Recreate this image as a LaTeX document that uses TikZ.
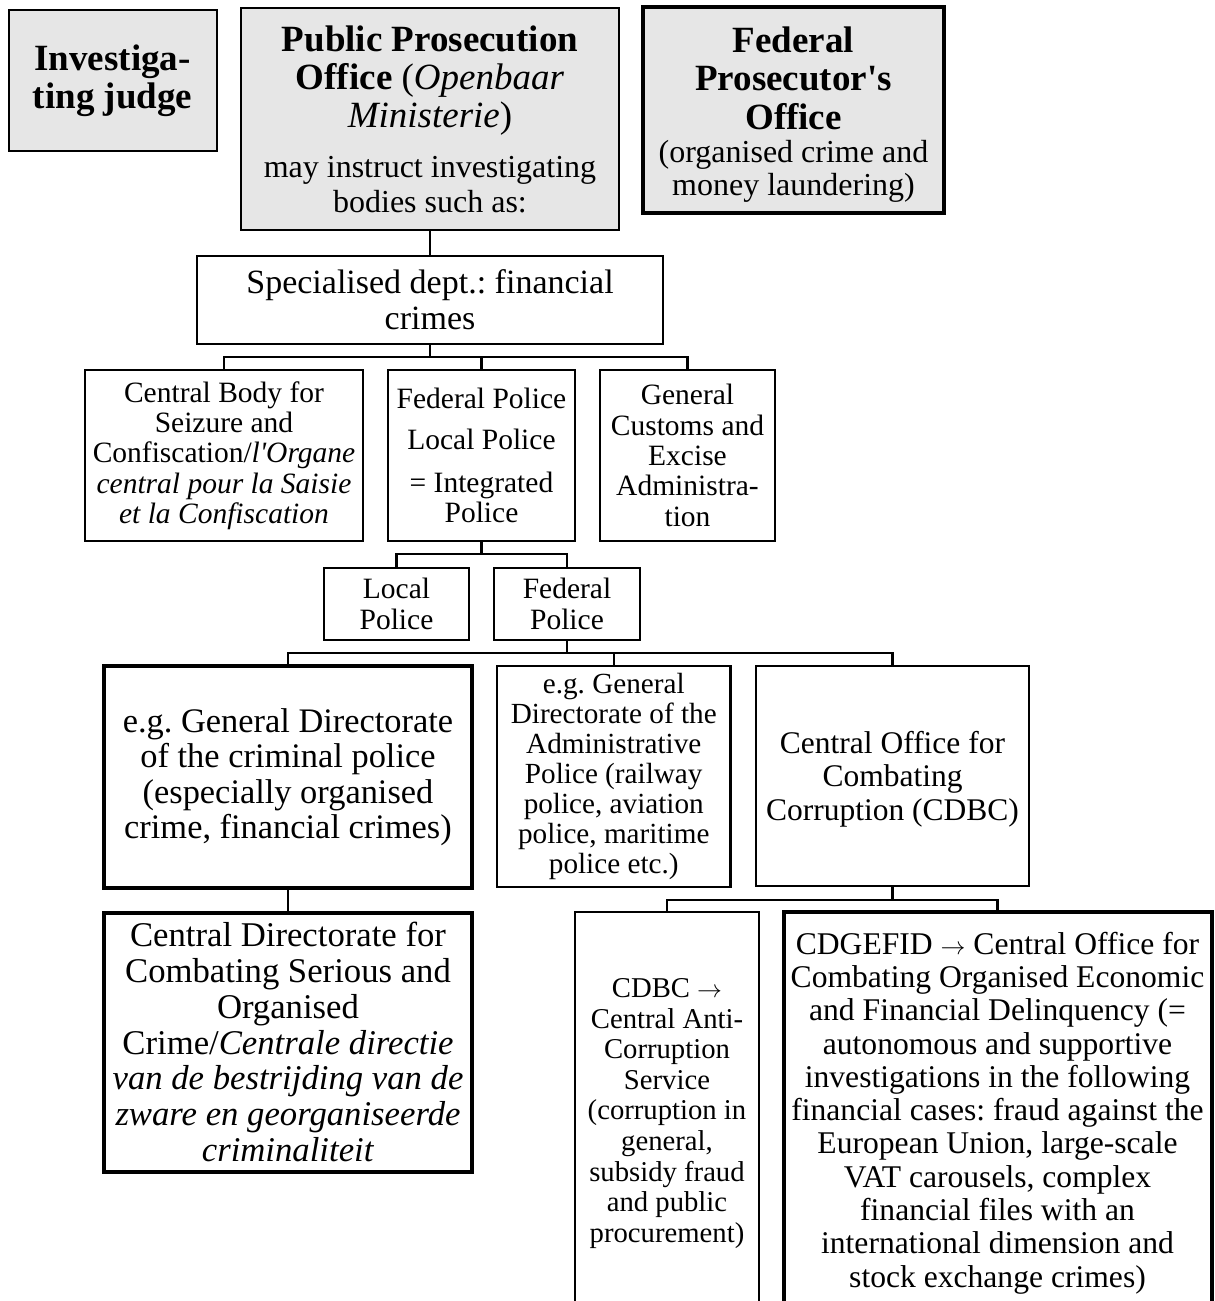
\documentclass[tikz,border=0pt]{standalone}
\usepackage{fontspec}
\setmainfont{Liberation Serif}[Ligatures=TeXOff]
\definecolor{boxgray}{HTML}{E6E6E6}
\newcommand\setfs[2]{\fontsize{#1}{#2}\selectfont\spaceskip=.25em\relax\xspaceskip=.25em\relax}
\newcommand\rarr{\ensuremath{\rightarrow}}
\newcommand\tallstrut[1]{\rule{0pt}{#1}}
\begin{document}
\begin{tikzpicture}[x=1pt,y=-1pt,
  box/.style={draw, line width=2.2pt, align=center, inner sep=0pt, outer sep=0pt},
  thickbox/.style={box, line width=4pt},
  grey/.style={fill=boxgray},
  conn/.style={line width=2.2pt}]
\useasboundingbox (0,0) rectangle (1215,1301);

\node[box,grey,minimum width=208pt,minimum height=141pt,text width=206pt] (judge) at (112.6,80.3)
  {\setfs{37}{38}\bfseries Investiga-\\ ting judge\par};
\node[box,grey,minimum width=378pt,minimum height=222pt,text width=374pt] (ppo) at (430,119)
  {\setfs{37}{38}\bfseries Public Prosecution\\ Office \mdseries(\textit{Openbaar}\\ \textit{Ministerie})\\[15pt]
   \setfs{32}{35}may instruct investigating\\ bodies such as:\par};
\node[thickbox,grey,minimum width=301pt,minimum height=206pt,text width=297pt] (fpo) at (793.5,110)
  {\setfs{37}{38.5}\bfseries\tallstrut{34pt}Federal\\ Prosecutor's\\ Office\\ \mdseries\setfs{32}{33}(organised crime and\\ money laundering)\par};

\node[box,minimum width=466pt,minimum height=88pt,text width=462pt] (spec) at (430,300)
  {\setfs{34}{36}Specialised dept.: financial\\ crimes\par};

\node[box,minimum width=278pt,minimum height=171pt,text width=276pt] (cbody) at (224,455.5)
  {\setfs{29.5}{30.3}Central Body for\\ Seizure and\\ Confiscation/\textit{l'Organe}\\ \textit{central pour la Saisie}\\ \textit{et la Confiscation}\par};
\node[box,minimum width=187pt,minimum height=171pt,text width=185pt] (integ) at (481.5,455.5)
  {\setfs{29.5}{30.3}Federal Police\\[11pt] Local Police\\[12pt] = Integrated\\ Police\par};
\node[box,minimum width=175pt,minimum height=171pt,text width=173pt] (customs) at (687.5,455.5)
  {\setfs{29.5}{30.3}General\\ Customs and\\ Excise\\ Administra-\\ tion\par};

\node[box,minimum width=145pt,minimum height=72pt,text width=143pt] (local) at (396.5,604)
  {\setfs{29.5}{30.3}Local\\ Police\par};
\node[box,minimum width=146pt,minimum height=72pt,text width=144pt] (fedpol) at (567,604)
  {\setfs{29.5}{30.3}Federal\\ Police\par};

\node[thickbox,minimum width=368pt,minimum height=222pt,text width=366pt] (crim) at (288,777)
  {\setfs{34.4}{35.5}e.g. General Directorate\\ of the criminal police\\ (especially organised\\ crime, financial crimes)\par};
\node[box,minimum width=233.5pt,minimum height=221pt,text width=231pt] (admin) at (613.75,776.5)
  {\setfs{29.2}{30}e.g. General\\ Directorate of the\\ Administrative\\ Police (railway\\ police, aviation\\ police, maritime\\ police etc.)\par};
\node[box,minimum width=273pt,minimum height=220pt,text width=271pt] (cobc) at (892.5,776)
  {\setfs{31.5}{33.5}\tallstrut{28pt}Central Office for\\ Combating\\ Corruption (CDBC)\par};

\node[thickbox,minimum width=368pt,minimum height=259pt,text width=366pt] (cdir) at (288,1042)
  {\setfs{34.7}{35.7}Central Directorate for\\ Combating Serious and\\ Organised\\ Crime/\textit{Centrale directie}\\ \textit{van de bestrijding van de}\\ \textit{zware en georganiseerde}\\ \textit{criminaliteit}\par};

\node[box,minimum width=184pt,minimum height=396pt,text width=182pt] (cdbc2) at (667,1110)
  {\setfs{28.7}{30.6}\tallstrut{26pt}CDBC \rarr\\ Central Anti-\\ Corruption\\ Service\\ (corruption in\\ general,\\ subsidy fraud\\ and public\\ procurement)\par};
\node[thickbox,minimum width=428pt,minimum height=396pt,text width=426pt] (cdgefid) at (997.5,1110)
  {\setfs{31.6}{33.3}\tallstrut{28pt}CDGEFID \rarr{} Central Office for\\ Combating Organised Economic\\ and Financial Delinquency (=\\ autonomous and supportive\\ investigations in the following\\ financial cases: fraud against the\\ European Union, large-scale\\ VAT carousels, complex\\ financial files with an\\ international dimension and\\ stock exchange crimes)\par};

\coordinate (b1) at (430,357);
\coordinate (b2) at (481.5,554);
\coordinate (b3) at (567,653);
\coordinate (b4) at (892.5,900);

\draw[conn] (ppo.south) -- (spec.north);
\draw[conn] (spec.south) -- (b1);
\draw[conn] (cbody.north) |- (b1) -| (customs.north);
\draw[conn] (integ.north) -- (integ.north |- b1);
\draw[conn] (integ.south) -- (b2);
\draw[conn] (local.north) |- (b2) -| (fedpol.north);
\draw[conn] (fedpol.south) -- (b3);
\draw[conn] (crim.north) |- (b3) -| (cobc.north);
\draw[conn] (admin.north) -- (admin.north |- b3);
\draw[conn] (crim.south) -- (cdir.north);
\draw[conn] (cobc.south) -- (b4);
\draw[conn] (cdbc2.north) |- (b4) -| (cdgefid.north);
\end{tikzpicture}
\end{document}
